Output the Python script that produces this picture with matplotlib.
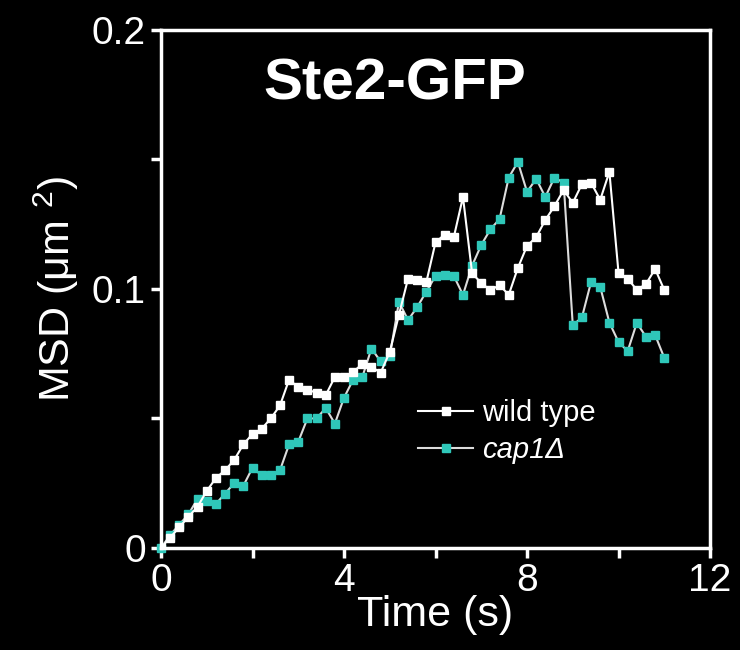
import matplotlib
matplotlib.use("Agg")
import matplotlib.pyplot as plt
from matplotlib.ticker import FixedLocator, FixedFormatter

plt.rcParams["font.family"] = ["Liberation Sans", "DejaVu Sans"]
plt.rcParams["mathtext.fontset"] = "custom"
plt.rcParams["mathtext.rm"] = "Liberation Sans"

# time points (s)
time_s = [0.0, 0.2, 0.4, 0.6, 0.8, 1.0, 1.2, 1.4, 1.6, 1.8,
          2.0, 2.2, 2.4, 2.6, 2.8, 3.0, 3.2, 3.4, 3.6, 3.8,
          4.0, 4.2, 4.4, 4.6, 4.8, 5.0, 5.2, 5.4, 5.6, 5.8,
          6.0, 6.2, 6.4, 6.6, 6.8, 7.0, 7.2, 7.4, 7.6, 7.8,
          8.0, 8.2, 8.4, 8.6, 8.8, 9.0, 9.2, 9.4, 9.6, 9.8,
          10.0, 10.2, 10.4, 10.6, 10.8, 11.0]

# MSD (um^2)
msd_wild_type = [0.0, 0.004, 0.008, 0.012, 0.016, 0.022, 0.027, 0.030, 0.034, 0.040,
                 0.044, 0.046, 0.050, 0.055, 0.065, 0.062, 0.061, 0.060, 0.059, 0.066,
                 0.066, 0.068, 0.071, 0.070, 0.0676, 0.0757, 0.090, 0.104, 0.1035, 0.1027,
                 0.118, 0.121, 0.120, 0.1355, 0.106, 0.1023, 0.0995, 0.1015, 0.0977, 0.1081,
                 0.1166, 0.120, 0.1266, 0.132, 0.1382, 0.1332, 0.1405, 0.141, 0.1344, 0.1452,
                 0.1062, 0.104, 0.0996, 0.1019, 0.1077, 0.0996]

msd_cap1 = [0.0, 0.005, 0.009, 0.013, 0.019, 0.018, 0.017, 0.021, 0.025, 0.024,
            0.031, 0.028, 0.028, 0.030, 0.040, 0.041, 0.050, 0.050, 0.054, 0.048,
            0.058, 0.065, 0.066, 0.077, 0.072, 0.074, 0.095, 0.088, 0.093, 0.099,
            0.105, 0.1054, 0.105, 0.0977, 0.109, 0.117, 0.123, 0.127, 0.143, 0.149,
            0.1375, 0.1425, 0.1355, 0.143, 0.141, 0.086, 0.089, 0.1027, 0.1008, 0.087,
            0.0795, 0.076, 0.0869, 0.0815, 0.0822, 0.0734]

CYAN = "#2fc7b9"

fig = plt.figure(figsize=(7.4, 6.5), dpi=100, facecolor="black")
ax = fig.add_axes([0.2176, 0.157, 0.7419, 0.797])
ax.set_facecolor("black")

ax.plot(time_s, msd_wild_type, color="white", lw=1.5, marker="s", ms=6,
        mfc="white", mec="white", label="wild type", zorder=3)
ax.plot(time_s, msd_cap1, color="#dcdcdc", lw=1.5, marker="s", ms=6,
        mfc=CYAN, mec=CYAN, label="cap1Δ", zorder=2, clip_on=False)

ax.set_xlim(0, 12)
ax.set_ylim(0, 0.2)

for sp in ax.spines.values():
    sp.set_color("white")
    sp.set_linewidth(2.5)

ax.xaxis.set_major_locator(FixedLocator([0, 2, 4, 6, 8, 10, 12]))
ax.xaxis.set_major_formatter(FixedFormatter(["0", "", "4", "", "8", "", "12"]))
ax.yaxis.set_major_locator(FixedLocator([0, 0.05, 0.1, 0.15, 0.2]))
ax.yaxis.set_major_formatter(FixedFormatter(["0", "", "0.1", "", "0.2"]))
ax.tick_params(axis="both", colors="white", labelcolor="white", labelsize=28,
               length=7, width=2.5, direction="out", pad=4)

ax.set_xlabel("Time (s)", color="white", fontsize=31, labelpad=-3)
ax.set_ylabel("MSD (μm $^{2}$)", color="white", fontsize=31, labelpad=8)

ax.text(0.426, 0.894, "Ste2-GFP", transform=ax.transAxes, color="white",
        fontsize=42, fontweight="bold", ha="center", va="center")

leg = ax.legend(loc="center left", bbox_to_anchor=(0.42, 0.225), frameon=False,
                fontsize=21, labelcolor="white", handlelength=1.9,
                handletextpad=0.3, labelspacing=0.3)
leg.get_texts()[1].set_style("italic")

fig.savefig("out.png", dpi=100, facecolor="black")
